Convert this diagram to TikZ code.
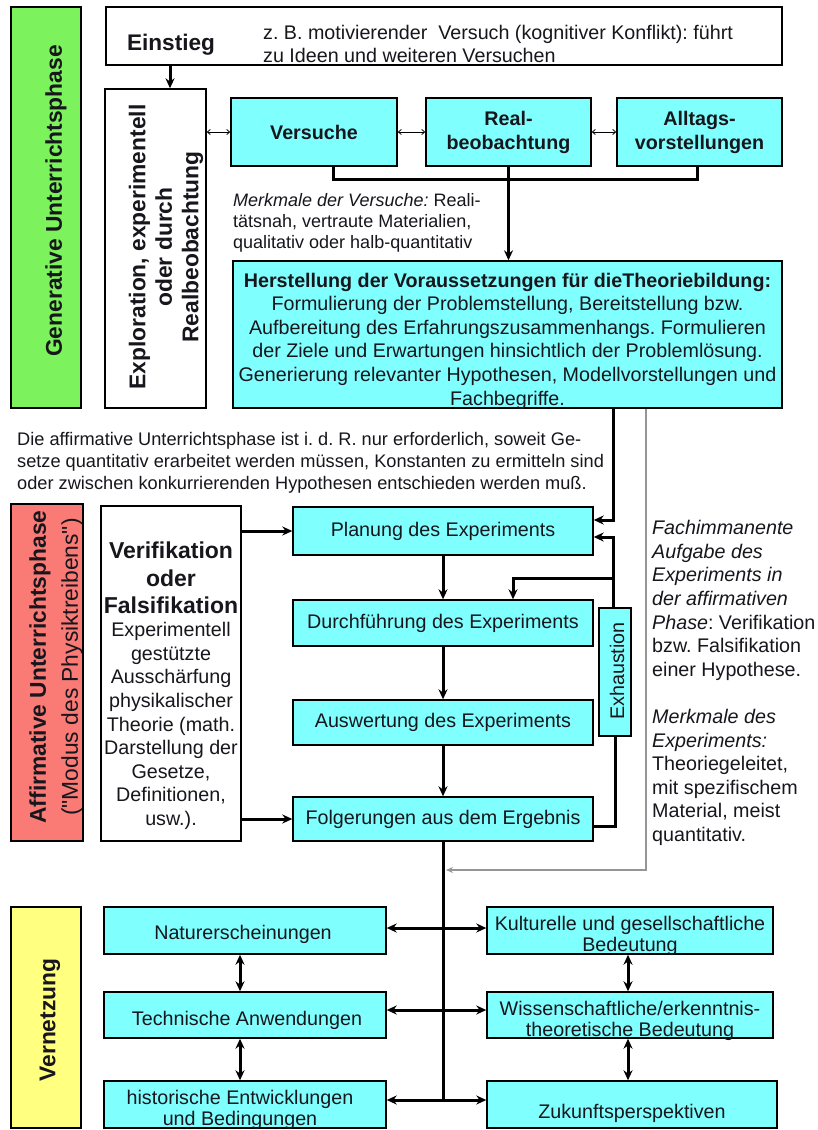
\documentclass[tikz,border=0pt]{standalone}
\usepackage{fontspec}
\setmainfont{Liberation Sans}
\newfontfamily\rawsans{Liberation Sans}[Ligatures=TeXOff]
\usetikzlibrary{arrows.meta}
\definecolor{cyanbox}{RGB}{128,255,255}
\definecolor{greenbox}{RGB}{124,242,92}
\definecolor{redbox}{RGB}{250,122,118}
\definecolor{yellowbox}{RGB}{255,255,128}
\definecolor{txt}{RGB}{22,22,28}
\definecolor{grayline}{RGB}{150,150,150}
\tikzset{
  box/.style={draw=black, line width=1.4pt, inner sep=0pt},
  cbox/.style={box, fill=cyanbox},
  wbox/.style={box, fill=white},
  nrm/.style={font=\fontsize{19.7}{23.6}\selectfont, inner sep=0pt, text=txt},
  bld/.style={font=\fontsize{19.7}{24}\selectfont\bfseries, inner sep=0pt, text=txt},
  hdr/.style={font=\fontsize{22.8}{26.5}\selectfont\bfseries, inner sep=0pt, text=txt},
  hdrn/.style={font=\rawsans\fontsize{22.8}{26.5}\selectfont, inner sep=0pt, text=txt},
  vhead/.style={font=\fontsize{23}{27.5}\selectfont\bfseries, inner sep=0pt, text=txt},
  small/.style={font=\fontsize{18}{21}\selectfont, inner sep=0pt, text=txt},
  para/.style={font=\fontsize{18.2}{22}\selectfont, inner sep=0pt, text=txt},
  btxt/.style={font=\fontsize{19.7}{21.5}\selectfont, inner sep=0pt, text=txt, align=center},
  thk/.style={draw=black, line width=3pt},
  arr/.style={thk, -{Stealth[length=10pt,width=9pt]}},
  darr/.style={thk, {Stealth[length=10pt,width=9pt]}-{Stealth[length=10pt,width=9pt]}},
  thinarr/.style={draw=black, line width=0.8pt, {Straight Barb[length=3pt,width=5pt]}-{Straight Barb[length=3pt,width=5pt]}},
  grayarr/.style={draw=grayline, line width=1.6pt, -{Stealth[length=7pt,width=6pt]}}
}
\begin{document}
\frenchspacing
\begin{tikzpicture}[x=1pt,y=-1pt]
\fill[white] (0,0) rectangle (818,1130);
\useasboundingbox (0,0) rectangle (818,1130);

% ---------- Generative phase ----------
\node[box, fill=greenbox, minimum width=70pt, minimum height=401pt] (gen) at (46,207.5) {};
\node[hdr, rotate=90] (gentxt) at (56,201) {Generative Unterrichtsphase};

\node[wbox, minimum width=676pt, minimum height=58pt] (einst) at (444,36) {};
\node[font=\fontsize{22.6}{26}\selectfont\bfseries, inner sep=0pt, text=txt] (einsttxt) at (171,45) {Einstieg};
\node[nrm, align=left, anchor=west] (einstnote) at (263,44) {z. B. motivierender\ \ Versuch (kognitiver Konflikt): führt\\zu Ideen und weiteren Versuchen};

\node[wbox, minimum width=101pt, minimum height=319pt] (explo) at (155.5,248.5) {};
\node[hdr, rotate=90, align=center] (explotxt) at (166,247) {Exploration, experimentell\\oder durch\\Realbeobachtung};

\node[cbox, bld, minimum width=166pt, minimum height=68pt] (versuche) at (314,132) {Versuche};
\node[cbox, bld, align=center, minimum width=165pt, minimum height=68pt] (real) at (508.5,132) {Real-\\beobachtung};
\node[cbox, bld, align=center, minimum width=165pt, minimum height=68pt] (alltag) at (699.5,132) {Alltags-\\vorstellungen};

\node[small, align=left, anchor=west] (merk) at (233,223) {\textit{Merkmale der Versuche:} Reali-\\tätsnah, vertraute Materialien,\\qualitativ oder halb-quantitativ};

\node[cbox, minimum width=549pt, minimum height=147pt] (herst) at (507.5,334.5) {};
\node[nrm, align=center] (hersttxt) at (507.5,341) {\textbf{Herstellung der Voraussetzungen für dieTheoriebildung:}\\Formulierung der Problemstellung, Bereitstellung bzw.\\Aufbereitung des Erfahrungszusammenhangs. Formulieren\\der Ziele und Erwartungen hinsichtlich der Problemlösung.\\Generierung relevanter Hypothesen, Modellvorstellungen und\\Fachbegriffe.};

\node[para, align=left, anchor=west] (affnote) at (17,463) {Die affirmative Unterrichtsphase ist i. d. R. nur erforderlich, soweit Ge-\\setze quantitativ erarbeitet werden müssen, Konstanten zu ermitteln sind\\oder zwischen konkurrierenden Hypothesen entschieden werden muß.};

% ---------- Affirmative phase ----------
\node[box, fill=redbox, minimum width=72pt, minimum height=337pt] (aff) at (47,672.5) {};
\node[hdr, rotate=90] (afftxt) at (40,667) {Affirmative Unterrichtsphase};
\node[hdrn, rotate=90] (modustxt) at (72,667) {("Modus des Physiktreibens")};

\node[wbox, minimum width=140pt, minimum height=335pt] (verif) at (171,673.5) {};
\node[vhead, align=center] (veriftxt) at (171,578) {Verifikation\\oder\\Falsifikation};
\node[nrm, align=center] (verifbody) at (171,726) {Experimentell\\gestützte\\Ausschärfung\\physikalischer\\Theorie (math.\\Darstellung der\\Gesetze,\\Definitionen,\\usw.).};

\node[cbox, nrm, minimum width=300pt, minimum height=48pt] (planung) at (443,531) {Planung des Experiments};
\node[cbox, nrm, minimum width=300pt, minimum height=46pt] (durch) at (443,623) {Durchführung des Experiments};
\node[cbox, nrm, minimum width=300pt, minimum height=45pt] (ausw) at (443,722.5) {Auswertung des Experiments};
\node[cbox, nrm, minimum width=300pt, minimum height=44pt] (folg) at (443,819) {Folgerungen aus dem Ergebnis};

\node[cbox, minimum width=32pt, minimum height=128pt] (exh) at (615,672) {};
\node[nrm, rotate=90] (exhtxt) at (617,671) {Exhaustion};

\node[nrm, align=left, anchor=west] (fachnote) at (652,683) {\textit{Fachimmanente}\\\textit{Aufgabe des}\\\textit{Experiments in}\\\textit{der affirmativen}\\\textit{Phase}: Verifikation\\bzw. Falsifikation\\einer Hypothese.\\[23.6pt]\textit{Merkmale des}\\\textit{Experiments:}\\Theoriegeleitet,\\mit spezifischem\\Material, meist\\quantitativ.};

% ---------- Vernetzung ----------
\node[box, fill=yellowbox, minimum width=70pt, minimum height=221pt] (vern) at (46,1017.5) {};
\node[hdr, rotate=90] (verntxt) at (50,1020) {Vernetzung};

\node[cbox, minimum width=282pt, minimum height=47pt] (natur) at (245,930.5) {};
\node[btxt] (naturtxt) at (243,934) {Naturerscheinungen};
\node[cbox, minimum width=282pt, minimum height=46pt] (techn) at (245,1015) {};
\node[btxt] (techntxt) at (247,1020) {Technische Anwendungen};
\node[cbox, minimum width=282pt, minimum height=47pt] (hist) at (245,1104.5) {};
\node[btxt] (histtxt) at (240,1110) {historische Entwicklungen\\und Bedingungen};

\node[cbox, minimum width=286pt, minimum height=47pt] (kult) at (630,930.5) {};
\node[btxt] (kulttxt) at (630,936) {Kulturelle und gesellschaftliche\\Bedeutung};
\node[cbox, minimum width=286pt, minimum height=46pt] (wiss) at (630,1015) {};
\node[btxt] (wisstxt) at (630,1021) {Wissenschaftliche/erkenntnis-\\theoretische Bedeutung};
\node[cbox, minimum width=290pt, minimum height=47pt] (zuk) at (632,1104.5) {};
\node[btxt] (zuktxt) at (632,1113) {Zukunftsperspektiven};

% ---------- connectors ----------
\coordinate (e1) at (170,0);
\draw[arr] (e1 |- einst.south) -- (e1 |- explo.north);

\draw[thinarr] (versuche.west -| explo.east) -- (versuche.west);
\draw[thinarr] (versuche.east) -- (real.west);
\draw[thinarr] (real.east) -- (alltag.west);

\coordinate (h1) at (333,179);
\coordinate (h2) at (697,179);
\draw[thk] (h1 |- versuche.south) -- (h1) -- (h2) -- (h2 |- alltag.south);
\draw[arr] (real.south) -- (real.south |- herst.north);

\coordinate (p1) at (613,520);
\draw[arr] (p1 |- herst.south) -- (p1) -- (p1 -| planung.east);
\coordinate (p2) at (613,537);
\draw[arr] (p2 |- exh.north) -- (p2) -- (p2 -| planung.east);
\coordinate (p3) at (613,578);
\coordinate (p4) at (513,578);
\draw[arr] (p3) -- (p4) -- (p4 |- durch.north);
\coordinate (p5) at (615,826);
\draw[thk] (p5 -| folg.east) -- (p5) -- (p5 |- exh.south);

\draw[arr] (verif.east |- planung.west) -- (planung.west);
\draw[arr] (verif.east |- folg.west) -- (folg.west);

\draw[arr] (planung) -- (durch);
\draw[arr] (durch) -- (ausw);
\draw[arr] (ausw) -- (folg);

\coordinate (g1) at (646,870);
\coordinate (g2) at (446,870);
\draw[grayarr] (g1 |- herst.south) -- (g1) -- (g2);

\coordinate (j1) at (443,928);
\coordinate (j2) at (443,1010);
\coordinate (j3) at (443,1100);
\draw[thk] (folg.south) -- (j3);
\draw[arr] (j1) -- (j1 -| natur.east);
\draw[arr] (j1) -- (j1 -| kult.west);
\draw[arr] (j2) -- (j2 -| techn.east);
\draw[arr] (j2) -- (j2 -| wiss.west);
\draw[arr] (j3) -- (j3 -| hist.east);
\draw[arr] (j3) -- (j3 -| zuk.west);

\coordinate (la) at (240,0);
\coordinate (ra) at (628,0);
\draw[darr] (la |- natur.south) -- (la |- techn.north);
\draw[darr] (la |- techn.south) -- (la |- hist.north);
\draw[darr] (ra |- kult.south) -- (ra |- wiss.north);
\draw[darr] (ra |- wiss.south) -- (ra |- zuk.north);
\end{tikzpicture}
\end{document}
